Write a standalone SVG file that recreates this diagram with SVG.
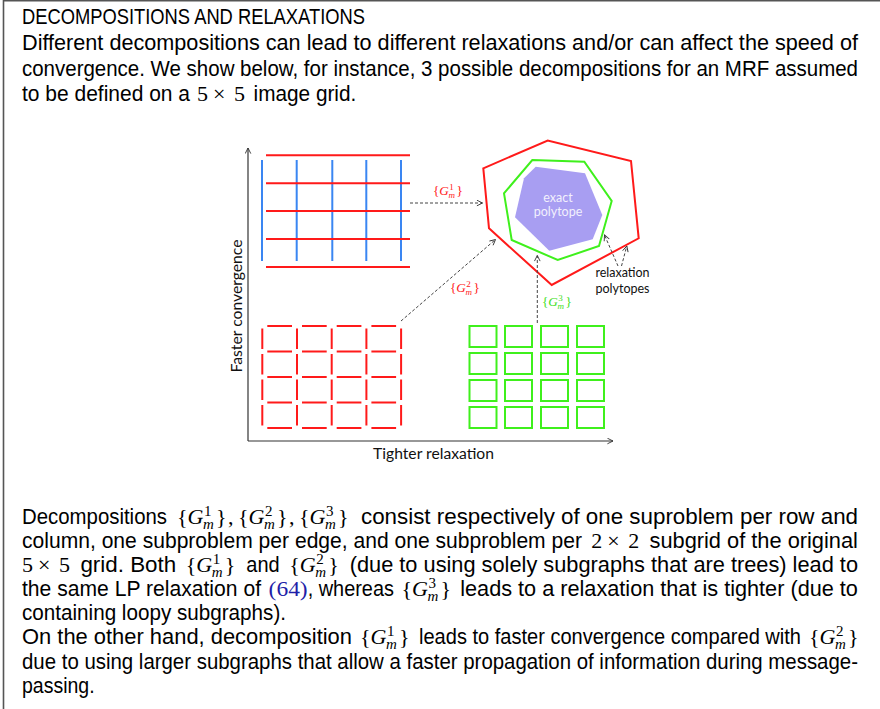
<svg xmlns="http://www.w3.org/2000/svg" xmlns:xlink="http://www.w3.org/1999/xlink" width="880" height="709" viewBox="0 0 880 709">
<style>
.t{font-family:"Liberation Sans",Arial,sans-serif;font-size:22px;fill:#000}
.mf{font-family:"Liberation Serif","Times New Roman",serif;font-size:22px}
.it{font-style:italic}
.sc{font-size:15px}
.lbl{font-family:Lato,"Liberation Sans",sans-serif;font-size:14.5px;fill:#111}
.small{font-family:Lato,"Liberation Sans",sans-serif;font-size:12.5px}
.dash{stroke:#444;stroke-width:1;stroke-dasharray:3 2;fill:none;marker-end:url(#open)}
.axis{stroke:#333;stroke-width:1.2;fill:none;marker-end:url(#open)}
.red{stroke:#ff1a1a;stroke-width:2;fill:none}
.blue{stroke:#3a86f2;stroke-width:2;fill:none}
.grn{stroke:#3ff01c;stroke-width:2;fill:none}
</style>
<defs>
<marker id="open" viewBox="0 0 10 10" refX="9" refY="5" markerWidth="7" markerHeight="7" orient="auto" markerUnits="userSpaceOnUse">
<path d="M1,1 L9,5 L1,9" fill="none" stroke="#333" stroke-width="1.3"/>
</marker>
<g id="Gm">
<text class="mf" x="0" y="0">{</text>
<text class="mf it" x="10.5" y="0">G</text>
<text class="mf it sc" x="26" y="4.5">m</text>
<text class="mf" x="39" y="0">}</text>
</g>
<g id="fxf">
<text class="mf" x="0" y="0">5</text>
<text class="mf" x="16" y="0">×</text>
<text class="mf" x="37" y="0">5</text>
</g>
<g id="txt2">
<text class="mf" x="0" y="0">2</text>
<text class="mf" x="16" y="0">×</text>
<text class="mf" x="37" y="0">2</text>
</g>
</defs>

<rect width="880" height="709" fill="#fff"/>
<path d="M3.5,709 V0.8 H880" fill="none" stroke="#555" stroke-width="1.6"/>

<g id="header">
<text class="t" transform="matrix(.85 0 0 1 22 23.5)" textLength="403.5" lengthAdjust="spacingAndGlyphs">DECOMPOSITIONS AND RELAXATIONS</text>
<text class="t" transform="matrix(.85 0 0 1 22 50)" textLength="983.5" lengthAdjust="spacingAndGlyphs">Different decompositions can lead to different relaxations and/or can affect the speed of</text>
<text class="t" transform="matrix(.85 0 0 1 22 76)" textLength="983.5" lengthAdjust="spacingAndGlyphs">convergence. We show below, for instance, 3 possible decompositions for an MRF assumed</text>
<text class="t" transform="matrix(.85 0 0 1 22 101)" textLength="197.6" lengthAdjust="spacingAndGlyphs">to be defined on a</text>
<use href="#fxf" transform="translate(197,101)"/>
<text class="t" transform="matrix(.85 0 0 1 253.6 101)" textLength="120.8" lengthAdjust="spacingAndGlyphs">image grid.</text>
</g>

<g id="grid1">
<path class="blue" d="M262,160V261 M296.7,160V261 M332.3,160V261 M366.3,160V261 M401,160V261"/>
<path class="red" d="M266,155.3H410 M266,183.3H410 M266,211H410 M266,239H410 M266,267H410"/>
</g>

<g id="grid2">
<path class="red" d="M267.3,326H292 M302,326H326.7 M336.7,326H361.4 M371.4,326H396.1
M267.3,351.5H292 M302,351.5H326.7 M336.7,351.5H361.4 M371.4,351.5H396.1
M267.3,377H292 M302,377H326.7 M336.7,377H361.4 M371.4,377H396.1
M267.3,402.5H292 M302,402.5H326.7 M336.7,402.5H361.4 M371.4,402.5H396.1
M267.3,428H292 M302,428H326.7 M336.7,428H361.4 M371.4,428H396.1
M262.3,328.5V349 M262.3,354V374.5 M262.3,379.5V400 M262.3,405V425.5
M297,328.5V349 M297,354V374.5 M297,379.5V400 M297,405V425.5
M331.7,328.5V349 M331.7,354V374.5 M331.7,379.5V400 M331.7,405V425.5
M366.4,328.5V349 M366.4,354V374.5 M366.4,379.5V400 M366.4,405V425.5
M401.1,328.5V349 M401.1,354V374.5 M401.1,379.5V400 M401.1,405V425.5"/>
</g>

<g id="grid3" class="grn">
<rect x="469.5" y="326" width="27" height="21"/><rect x="505" y="326" width="27" height="21"/><rect x="541" y="326" width="27" height="21"/><rect x="577" y="326" width="27" height="21"/>
<rect x="469.5" y="353" width="27" height="21"/><rect x="505" y="353" width="27" height="21"/><rect x="541" y="353" width="27" height="21"/><rect x="577" y="353" width="27" height="21"/>
<rect x="469.5" y="380" width="27" height="21"/><rect x="505" y="380" width="27" height="21"/><rect x="541" y="380" width="27" height="21"/><rect x="577" y="380" width="27" height="21"/>
<rect x="469.5" y="407" width="27" height="21"/><rect x="505" y="407" width="27" height="21"/><rect x="541" y="407" width="27" height="21"/><rect x="577" y="407" width="27" height="21"/>
</g>

<g id="relaxation-outer">
<polygon class="red" points="483.3,168.3 547.7,140.5 631,161 638.7,238.3 551.7,285 489,228.3"/>
</g>
<g id="relaxation-inner">
<polygon class="grn" points="532.3,160 584.3,161.7 611.7,201 599,246 557.7,260 511.7,240 504,193.3"/>
</g>
<g id="exact-polytope">
<polygon fill="#a89ef2" points="535.7,166.7 585,173.3 602.3,215 592.7,239.3 549.3,250.7 515,217.3 524,178.3"/>
<text class="small" x="558" y="201.5" text-anchor="middle" fill="#f2f0fd">exact</text>
<text class="small" x="558" y="216" text-anchor="middle" fill="#f2f0fd">polytope</text>
</g>
<g id="relaxation-label">
<text class="small" x="622.5" y="277" text-anchor="middle" fill="#111">relaxation</text>
<text class="small" x="622.5" y="292.5" text-anchor="middle" fill="#111">polytopes</text>
</g>

<g id="axis-labels">
<text class="lbl" transform="translate(242,306) rotate(-90)" text-anchor="middle" textLength="133" lengthAdjust="spacingAndGlyphs">Faster convergence</text>
<text class="lbl" x="433.5" y="459" text-anchor="middle" textLength="121" lengthAdjust="spacingAndGlyphs">Tighter relaxation</text>
</g>

<g id="connectors">
<path class="axis" d="M248,441 V148"/>
<path class="axis" d="M248,441 H613"/>
<path class="dash" d="M410,203 H482.5"/>
<path class="dash" d="M401,321 L495.5,239.5"/>
<path class="dash" d="M537.3,323 V255.5"/>
<path class="dash" d="M618,266 L604.5,235"/>
<path class="dash" d="M621.5,266 L626.8,246"/>
</g>

<g id="connector-labels">
<g transform="translate(433,195) scale(0.6)" fill="#ff2020"><use href="#Gm"/><text class="mf sc" x="27" y="-8">1</text></g>
<g transform="translate(450,292) scale(0.6)" fill="#ff2020"><use href="#Gm"/><text class="mf sc" x="27" y="-8">2</text></g>
<g transform="translate(542,306) scale(0.6)" fill="#3ee01c"><use href="#Gm"/><text class="mf sc" x="27" y="-8">3</text></g>
</g>

<g id="body">
<text class="t" transform="matrix(.85 0 0 1 22 524)" textLength="170.6" lengthAdjust="spacingAndGlyphs">Decompositions</text>
<g transform="translate(177,524)"><use href="#Gm"/><text class="mf sc" x="27" y="-8">1</text></g>
<text class="mf" x="228" y="524">,</text>
<g transform="translate(238,524)"><use href="#Gm"/><text class="mf sc" x="27" y="-8">2</text></g>
<text class="mf" x="289" y="524">,</text>
<g transform="translate(299,524)"><use href="#Gm"/><text class="mf sc" x="27" y="-8">3</text></g>
<text class="t" transform="matrix(.85 0 0 1 361 524)" textLength="584.7" lengthAdjust="spacingAndGlyphs">consist respectively of one suproblem per row and</text>

<text class="t" transform="matrix(.85 0 0 1 22 548)" textLength="658.8" lengthAdjust="spacingAndGlyphs">column, one subproblem per edge, and one subproblem per</text>
<use href="#txt2" transform="translate(591.3,548)"/>
<text class="t" transform="matrix(.85 0 0 1 649.5 548)" textLength="245.2" lengthAdjust="spacingAndGlyphs">subgrid of the original</text>

<use href="#fxf" transform="translate(22,572)"/>
<text class="t" transform="matrix(.85 0 0 1 80.4 572)" textLength="112.7" lengthAdjust="spacingAndGlyphs">grid. Both</text>
<g transform="translate(185.8,572)"><use href="#Gm"/><text class="mf sc" x="27" y="-8">1</text></g>
<text class="t" transform="matrix(.85 0 0 1 246.3 572)" textLength="39.2" lengthAdjust="spacingAndGlyphs">and</text>
<g transform="translate(289.2,572)"><use href="#Gm"/><text class="mf sc" x="27" y="-8">2</text></g>
<text class="t" transform="matrix(.85 0 0 1 349.7 572)" textLength="598" lengthAdjust="spacingAndGlyphs">(due to using solely subgraphs that are trees) lead to</text>

<text class="t" transform="matrix(.85 0 0 1 22 596)" textLength="281.2" lengthAdjust="spacingAndGlyphs">the same LP relaxation of</text>
<text class="mf" x="268.6" y="596" fill="#1f1fa8" textLength="39.1" lengthAdjust="spacingAndGlyphs">(64)</text>
<text class="t" transform="matrix(.85 0 0 1 307.7 596)" textLength="101.4" lengthAdjust="spacingAndGlyphs">, whereas</text>
<g transform="translate(401.5,596)"><use href="#Gm"/><text class="mf sc" x="27" y="-8">3</text></g>
<text class="t" transform="matrix(.85 0 0 1 460.2 596)" textLength="467.9" lengthAdjust="spacingAndGlyphs">leads to a relaxation that is tighter (due to</text>

<text class="t" transform="matrix(.85 0 0 1 22 620)" textLength="310.6" lengthAdjust="spacingAndGlyphs">containing loopy subgraphs).</text>

<text class="t" transform="matrix(.85 0 0 1 22 644)" textLength="388.2" lengthAdjust="spacingAndGlyphs">On the other hand, decomposition</text>
<g transform="translate(360,644)"><use href="#Gm"/><text class="mf sc" x="27" y="-8">1</text></g>
<text class="t" transform="matrix(.85 0 0 1 419 644)" textLength="449.4" lengthAdjust="spacingAndGlyphs">leads to faster convergence compared with</text>
<g transform="translate(809,644)"><use href="#Gm"/><text class="mf sc" x="27" y="-8">2</text></g>

<text class="t" transform="matrix(.85 0 0 1 22 669)" textLength="983.5" lengthAdjust="spacingAndGlyphs">due to using larger subgraphs that allow a faster propagation of information during message-</text>
<text class="t" transform="matrix(.85 0 0 1 22 693)" textLength="85.4" lengthAdjust="spacingAndGlyphs">passing.</text>
</g>
</svg>
